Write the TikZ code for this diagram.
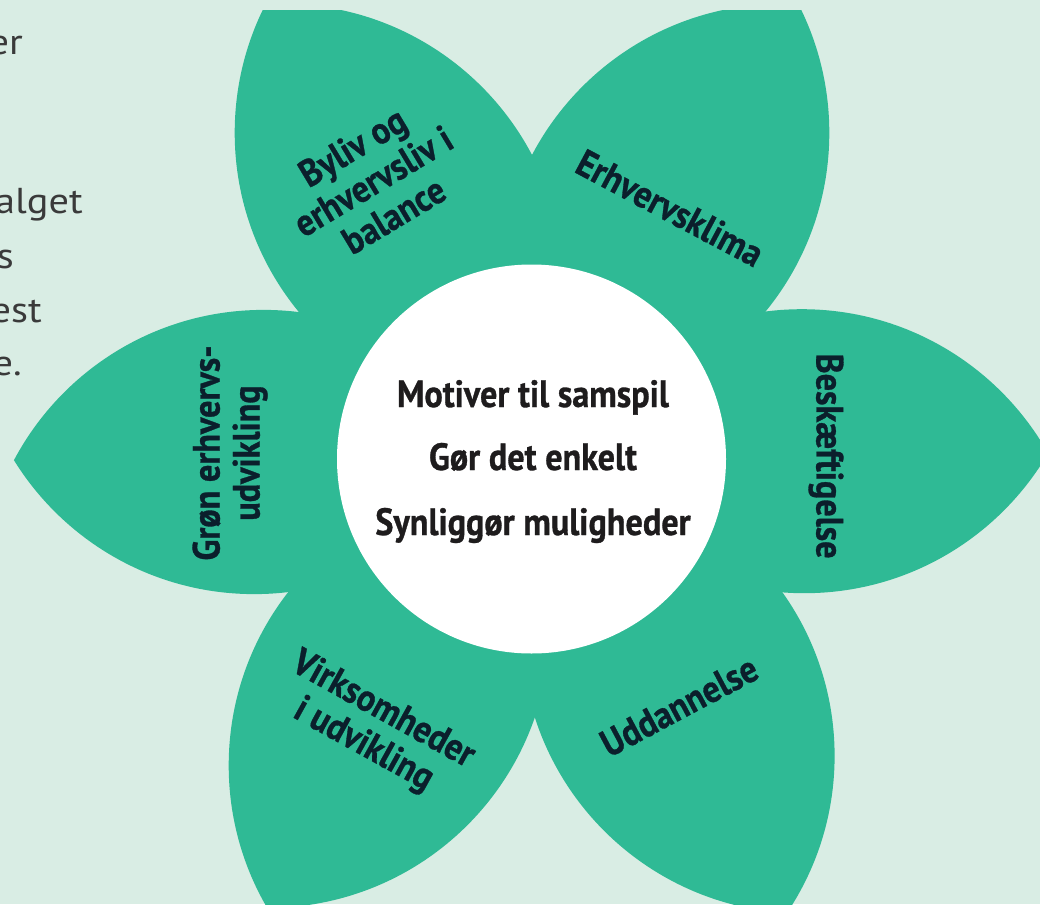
\documentclass[tikz,border=0pt]{standalone}
\usepackage{fontspec}
\newfontfamily\labelfont{PT Sans}[FakeStretch=0.9,FakeBold=0.8]
\newfontfamily\bodyfont{PT Sans}[FakeStretch=1.12]
\definecolor{bgmint}{HTML}{D9EDE4}
\definecolor{petalgreen}{HTML}{2FBA95}
\definecolor{navy}{HTML}{0B1F2C}
\definecolor{inkblack}{HTML}{1E1C1D}
\definecolor{bodygray}{HTML}{3A3A3A}
\newcommand\petalfill[2]{\begin{scope}\clip #1 circle (282.4pt); \fill[petalgreen] #2 circle (282.4pt);\end{scope}}
\tikzset{
  petaltext/.style={text=navy, inner sep=0pt, align=center, font=\labelfont\bfseries\fontsize{38}{40}\selectfont},
  centertext/.style={text=inkblack, inner sep=0pt, anchor=base, font=\labelfont\bfseries\fontsize{38}{40}\selectfont},
  bodytext/.style={text=bodygray, inner sep=0pt, anchor=base east, font=\bodyfont\fontsize{36}{54}\selectfont}
}
\begin{document}
\begin{tikzpicture}[x=1pt,y=-1pt]
\useasboundingbox (0,0) rectangle (1040,904);
\fill[bgmint] (0,0) rectangle (1040,904);
% cut-off body text at the left
\node[bodytext] (t1) at (23,55) {er};
\node[bodytext] (t2) at (83,213) {alget};
\node[bodytext] (t3) at (14,268) {s};
\node[bodytext] (t4) at (42,322) {est};
\node[bodytext] (t5) at (22,375) {e.};
% petals
\begin{scope}
\clip (0,11) rectangle (1040,904);
\petalfill{(254.2,311.7)}{(263.6,592.3)}   % left
\petalfill{(801.8,591.6)}{(804.2,310.8)}   % right
\petalfill{(517.1,132.8)}{(281.9,286.2)}   % top left
\petalfill{(782.1,286.2)}{(546.9,132.8)}   % top right
\petalfill{(267.7,625.5)}{(511.1,765.5)}   % bottom left
\petalfill{(552.2,755.9)}{(803.8,631.1)}   % bottom right
\end{scope}
% centre disc
\fill[white] (531.5,459) circle (194.5pt);
% centre texts
\node[centertext] (c1) at (533,407) {Motiver til samspil};
\node[centertext] (c2) at (533,470) {Gør det enkelt};
\node[centertext] (c3) at (533,535) {Synliggør muligheder};
% petal labels
\node[petaltext, rotate=31] (p1) at (373,181) {Byliv og\\erhvervsliv i\\balance};
\node[petaltext, rotate=-28] (p2) at (670,208) {Erhvervsklima};
\node[petaltext, rotate=-90] (p3) at (826,456) {Beskæftigelse};
\node[petaltext, rotate=28] (p4) at (679,706) {Uddannelse};
\node[petaltext, rotate=-29] (p5) at (373,728) {Virksomheder\\i udvikling};
\node[petaltext, rotate=90] (p6) at (230,453) {Grøn erhvervs-\\udvikling};
\end{tikzpicture}
\end{document}
